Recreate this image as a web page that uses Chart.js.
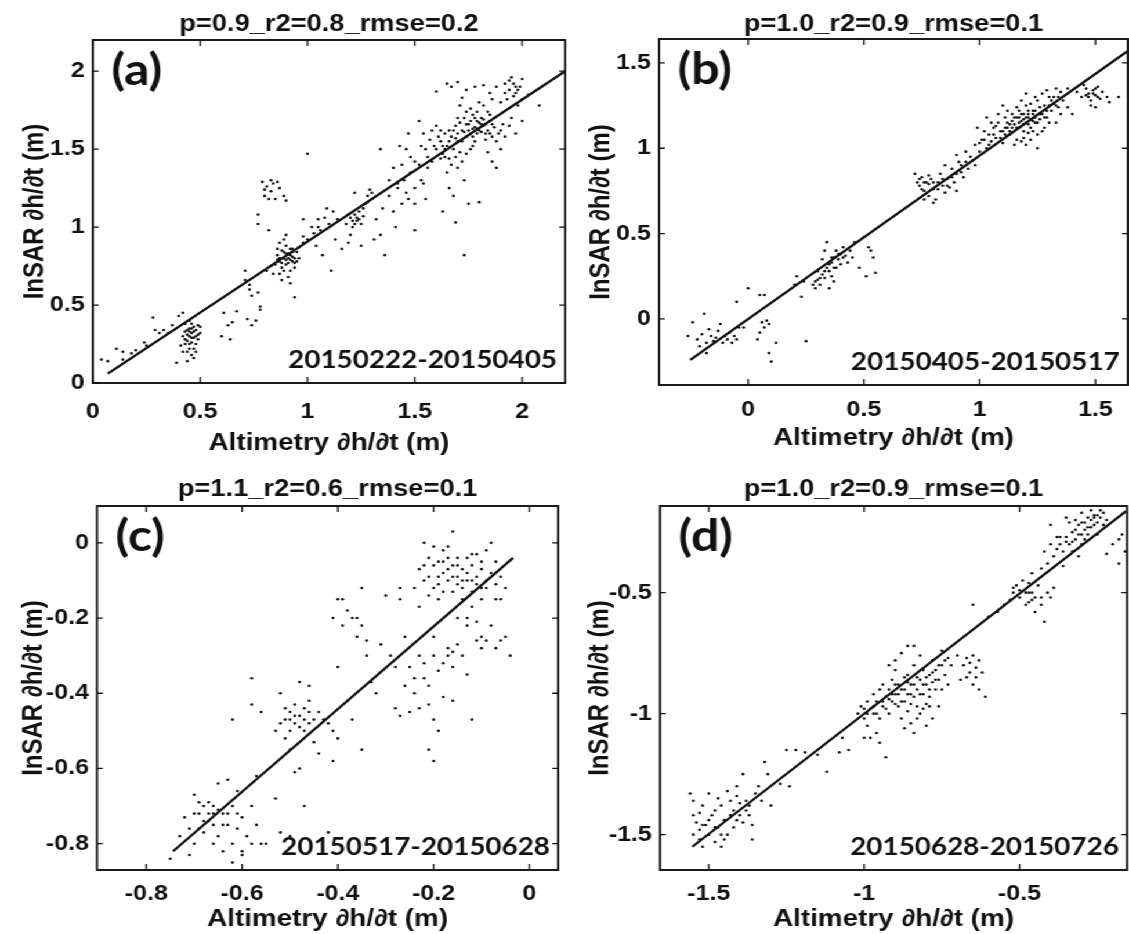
<!DOCTYPE html>
<html>
<head>
<meta charset="utf-8">
<script src="https://cdn.jsdelivr.net/npm/chart.js@4.4.1/dist/chart.umd.min.js"></script>
<style>
  html, body { margin: 0; padding: 0; background: #fff; }
  /* the source figure is stretched sideways, so draw narrow and widen the whole page */
  #page { position: absolute; left: 0; top: 0; width: 973px; height: 934px;
          transform: scaleX(1.16033); transform-origin: 0 0; }
  canvas { position: absolute; }
</style>
</head>
<body>
<div id="page">
  <canvas id="panelA" width="490" height="466" style="left:0;top:0"></canvas>
  <canvas id="panelB" width="483" height="466" style="left:490px;top:0"></canvas>
  <canvas id="panelC" width="490" height="468" style="left:0;top:466px"></canvas>
  <canvas id="panelD" width="483" height="468" style="left:490px;top:466px"></canvas>
</div>
<script>
document.addEventListener('DOMContentLoaded', function () {

// ---------------------------------------------------------------------------
// data
// ---------------------------------------------------------------------------

const titles = ['p=0.9_r2=0.8_rmse=0.2', 'p=1.0_r2=0.9_rmse=0.1', 'p=1.1_r2=0.6_rmse=0.1', 'p=1.0_r2=0.9_rmse=0.1'];
const letters = ['(a)', '(b)', '(c)', '(d)'];
const periods = ['20150222-20150405', '20150405-20150517', '20150517-20150628', '20150628-20150726'];
const xLabel = 'Altimetry \u2202h/\u2202t (m)';
const yLabel = 'InSAR \u2202h/\u2202t (m)';

// axis limits [min, max]
const xRangeA = [0, 2.2],        yRangeA = [0, 2.2];
const xRangeB = [-0.385, 1.64],  yRangeB = [-0.387, 1.64];
const xRangeC = [-0.903, 0.06],  yRangeC = [-0.87, 0.098];
const xRangeD = [-1.657, -0.154], yRangeD = [-1.646, -0.142];

// tick values
const ticksA = [0, 0.5, 1, 1.5, 2];
const ticksB = [0, 0.5, 1, 1.5];
const ticksC = [-0.8, -0.6, -0.4, -0.2, 0];
const ticksD = [-1.5, -1, -0.5];

// fitted lines, two end points each
const fitA = [[0.07, 0.06], [2.2, 2.0]];
const fitB = [[-0.25, -0.24], [1.64, 1.57]];
const fitC = [[-0.744, -0.82], [-0.034, -0.04]];
const fitD = [[-1.553, -1.55], [-0.157, -0.163]];

// scatter points [altimetry, insar]
const ptsA = [
  [0.04,0.15],[0.07,0.14],[0.11,0.22],[0.14,0.2],[0.14,0.15],[0.18,0.19],[0.2,0.21],[0.24,0.26],[0.25,0.24],
  [0.28,0.42],[0.29,0.34],[0.31,0.32],[0.33,0.34],[0.35,0.32],[0.37,0.37],[0.39,0.13],[0.4,0.43],[0.42,0.45],
  [0.42,0.3],[0.43,0.33],[0.44,0.27],[0.45,0.35],[0.46,0.32],[0.47,0.29],[0.48,0.34],[0.45,0.22],[0.46,0.18],
  [0.44,0.2],[0.47,0.16],[0.48,0.25],[0.49,0.31],[0.5,0.36],[0.43,0.38],[0.41,0.24],[0.44,0.14],[0.46,0.38],
  [0.49,0.28],[0.47,0.36],[0.42,0.2],[0.5,0.32],[0.45,0.3],[0.48,0.2],[0.46,0.26],[0.44,0.34],[0.49,0.37],[0.45,0.4],
  [0.43,0.28],[0.44,0.31],[0.45,0.33],[0.46,0.29],[0.47,0.33],[0.48,0.3],[0.46,0.35],[0.45,0.25],[0.47,0.22],[0.43,0.25],
  [0.6,0.3],[0.61,0.45],[0.63,0.37],[0.64,0.28],[0.65,0.39],[0.67,0.46],[0.72,0.41],[0.74,0.37],[0.76,0.4],
  [0.71,0.66],[0.73,0.6],[0.74,0.56],[0.77,0.58],[0.78,0.49],[0.78,0.47],[0.71,0.72],[0.73,0.63],
  [0.79,1.29],[0.81,1.26],[0.83,1.23],[0.84,1.28],[0.86,1.29],[0.8,1.2],[0.85,1.18],[0.83,1.3],[0.87,1.25],
  [0.82,1.18],[0.89,1.2],[0.9,1.17],[0.77,1.08],[0.77,1.02],[0.82,0.98],[0.8,1.24],
  [0.86,0.82],[0.87,0.78],[0.88,0.85],[0.89,0.8],[0.9,0.76],[0.91,0.83],[0.92,0.79],[0.93,0.81],[0.94,0.77],
  [0.9,0.88],[0.88,0.74],[0.92,0.72],[0.95,0.84],[0.96,0.8],[0.87,0.9],[0.91,0.68],[0.93,0.86],[0.85,0.76],
  [0.89,0.92],[0.94,0.74],[0.96,0.87],[0.98,0.9],[0.92,0.64],[0.94,0.55],[0.83,0.75],[0.84,0.7],[0.81,0.72],
  [0.88,0.66],[0.9,0.95],[0.86,0.86],[0.93,0.78],[0.91,0.8],
  [0.87,0.8],[0.89,0.84],[0.9,0.79],[0.91,0.77],[0.92,0.82],[0.93,0.84],[0.94,0.8],[0.95,0.78],[0.88,0.77],
  [0.86,0.79],[0.9,0.83],[0.92,0.86],[0.89,0.72],[0.87,0.7],
  [0.98,0.94],[1.0,0.92],[1.02,1.0],[1.03,0.96],[1.05,1.05],[1.06,0.98],[1.08,1.06],[1.1,1.02],[1.12,1.1],
  [1.04,0.88],[1.07,0.82],[1.11,0.72],[1.0,1.47],[1.05,1.0],[1.14,1.05],[1.09,1.12],[0.98,1.05],[1.13,0.92],
  [1.18,1.02],[1.2,1.06],[1.21,1.0],[1.22,1.08],[1.23,1.04],[1.24,1.1],[1.25,1.02],[1.2,0.95],[1.19,0.9],
  [1.26,1.07],[1.27,1.15],[1.28,1.2],[1.29,1.24],[1.3,1.18],[1.25,0.88],[1.22,1.22],[1.16,0.86],[1.31,0.92],
  [1.21,1.04],[1.23,1.06],[1.22,1.02],[1.24,1.05],[1.19,1.08],[1.26,1.12],[1.28,1.16],[1.3,1.22],
  [1.32,1.05],[1.34,0.95],[1.35,1.12],[1.36,0.82],[1.38,1.2],[1.4,1.1],[1.41,1.0],[1.42,1.25],[1.44,1.15],
  [1.45,1.3],[1.46,1.22],[1.48,1.35],[1.5,1.25],[1.52,1.4],[1.53,1.3],[1.55,1.18],[1.56,1.45],[1.34,1.5],
  [1.43,1.52],[1.5,0.98],[1.54,1.6],[1.52,1.68],[1.47,1.6],[1.4,1.38],[1.38,1.3],
  [1.46,1.5],[1.5,1.42],[1.48,1.45],[1.53,1.52],[1.56,1.38],[1.44,1.4],[1.42,1.28],[1.47,1.18],[1.5,1.15],[1.54,1.28],
  [1.6,1.5],[1.62,1.55],[1.63,1.47],[1.64,1.6],[1.65,1.52],[1.66,1.44],[1.67,1.58],[1.68,1.5],[1.69,1.65],
  [1.7,1.55],[1.71,1.48],[1.72,1.62],[1.73,1.7],[1.74,1.58],[1.75,1.66],[1.76,1.6],[1.77,1.72],[1.78,1.64],
  [1.79,1.68],[1.8,1.62],[1.81,1.7],[1.82,1.65],[1.83,1.6],[1.84,1.74],[1.85,1.68],[1.86,1.58],[1.87,1.64],
  [1.88,1.55],[1.9,1.62],[1.92,1.58],[1.94,1.65],[1.78,1.55],[1.76,1.5],[1.72,1.42],[1.7,1.38],[1.67,1.4],
  [1.65,1.35],[1.62,1.62],[1.6,1.65],[1.58,1.42],[1.73,1.3],[1.75,1.15],[1.68,1.2],[1.8,1.16],[1.86,1.42],
  [1.88,1.38],[1.84,1.48],[1.82,1.78],[1.8,1.8],[1.76,1.76],[1.74,1.74],[1.71,1.78],[1.9,1.5],[1.95,1.7],
  [1.97,1.6],[2.0,1.68],[1.66,1.25],[1.63,1.1],[1.69,1.03],[1.73,0.82],[1.79,1.6],[1.81,1.66],[1.77,1.63],
  [1.61,1.58],[1.63,1.52],[1.64,1.45],[1.66,1.55],[1.68,1.62],[1.69,1.57],[1.7,1.6],[1.71,1.67],[1.72,1.55],
  [1.73,1.61],[1.74,1.66],[1.75,1.62],[1.76,1.68],[1.77,1.58],[1.78,1.7],[1.79,1.63],[1.8,1.67],[1.81,1.61],
  [1.82,1.69],[1.83,1.66],[1.84,1.62],[1.85,1.72],[1.86,1.66],[1.87,1.7],[1.89,1.6],[1.91,1.66],[1.83,1.56],
  [1.77,1.52],[1.74,1.47],[1.69,1.45],[1.64,1.5],[1.66,1.62],[1.7,1.7],[1.79,1.74],[1.85,1.6],[1.62,1.44],
  [1.59,1.52],[1.57,1.56],[1.55,1.5],[1.58,1.62],
  [1.65,1.92],[1.67,1.9],[1.7,1.93],[1.74,1.88],[1.78,1.9],[1.82,1.91],[1.85,1.86],[1.88,1.9],[1.92,1.92],
  [1.94,1.88],[1.95,1.96],[1.96,1.84],[1.97,1.9],[1.93,1.82],[2.0,1.95],[2.03,1.85],[1.98,1.78],[1.9,1.8],
  [1.72,1.83],[1.6,1.87],[2.08,1.78],[1.96,1.92],[1.98,1.88],[1.94,1.94],[1.99,1.9],[1.97,1.86],[2.0,1.82],
  [1.92,1.86],[1.86,1.82]
];

const ptsB = [
  [-0.26,-0.1],[-0.24,-0.02],[-0.22,-0.12],[-0.2,-0.09],[-0.19,0.03],[-0.18,-0.14],[-0.17,-0.06],[-0.16,-0.1],
  [-0.15,-0.13],[-0.14,-0.11],[-0.12,-0.03],[-0.11,-0.14],[-0.1,-0.1],[-0.09,-0.12],[-0.08,-0.08],[-0.07,-0.14],
  [-0.06,-0.1],[-0.05,-0.12],[-0.04,-0.05],[-0.18,-0.2],[-0.21,-0.16],[-0.13,-0.07],[-0.05,0.1],[-0.02,-0.05],[0.0,0.18],
  [0.04,-0.12],[0.05,-0.08],[0.06,-0.02],[0.07,-0.05],[0.08,-0.01],[0.09,-0.03],[0.09,-0.2],[0.1,-0.25],[0.12,-0.14],
  [0.05,0.14],[0.07,0.14],[0.25,-0.13],
  [0.2,0.2],[0.21,0.25],[0.23,0.13],[0.24,0.22],[0.28,0.2],[0.29,0.18],[0.3,0.23],[0.31,0.2],[0.32,0.26],
  [0.33,0.24],[0.34,0.3],[0.35,0.28],[0.36,0.33],[0.37,0.36],[0.38,0.4],[0.39,0.35],[0.4,0.38],[0.41,0.42],
  [0.42,0.37],[0.33,0.4],[0.32,0.35],[0.34,0.45],[0.36,0.25],[0.38,0.3],[0.4,0.32],[0.35,0.18],[0.3,0.28],
  [0.37,0.22],[0.43,0.33],[0.44,0.4],[0.5,0.48],[0.48,0.3],[0.51,0.25],[0.53,0.4],[0.54,0.36],[0.52,0.42],
  [0.55,0.27],[0.45,0.36],[0.46,0.45],
  [0.33,0.28],[0.35,0.32],[0.37,0.3],[0.39,0.38],[0.41,0.36],[0.36,0.36],[0.31,0.24],[0.29,0.22],
  [0.72,0.85],[0.73,0.8],[0.74,0.78],[0.75,0.83],[0.76,0.75],[0.77,0.8],[0.78,0.72],[0.79,0.82],[0.8,0.76],
  [0.81,0.7],[0.82,0.8],[0.83,0.85],[0.84,0.78],[0.85,0.9],[0.86,0.82],[0.87,0.77],[0.88,0.88],[0.89,0.8],
  [0.9,0.75],[0.91,0.92],[0.92,0.86],[0.93,0.83],[0.95,0.88],[0.96,0.95],[0.98,0.9],[0.8,0.68],[0.76,0.7],
  [0.85,0.74],[0.9,0.96],[0.94,0.98],[0.74,0.82],[0.78,0.79],
  [0.76,0.8],[0.78,0.84],[0.8,0.8],[0.82,0.76],[0.84,0.82],[0.86,0.78],[0.88,0.83],[0.9,0.85],[0.92,0.9],
  [0.94,0.92],[0.97,0.93],[0.75,0.76],
  [0.98,1.02],[1.0,0.98],[1.01,1.05],[1.02,1.1],[1.03,1.0],[1.04,1.08],[1.05,1.04],[1.06,1.12],[1.07,1.06],
  [1.08,1.15],[1.09,1.1],[1.1,1.03],[1.11,1.18],[1.12,1.12],[1.13,1.08],[1.14,1.2],[1.15,1.14],[1.16,1.05],
  [1.17,1.22],[1.18,1.16],[1.19,1.1],[1.2,1.25],[1.21,1.18],[1.22,1.12],[1.23,1.2],[1.24,1.15],[1.25,1.28],
  [1.26,1.2],[1.27,1.1],[1.28,1.25],[1.29,1.18],[1.3,1.3],[1.31,1.22],[1.32,1.26],[1.33,1.15],[1.34,1.3],
  [1.35,1.2],[1.36,1.28],[1.12,1.22],[1.1,1.25],[1.08,1.2],[1.15,1.02],[1.18,1.04],[1.2,1.02],[1.22,1.05],
  [1.25,1.08],[1.05,1.15],[1.03,1.18],[0.99,1.12],[1.14,1.16],[1.16,1.18],[1.19,1.2],[1.21,1.14],[1.23,1.1],
  [1.17,1.12],[1.13,1.14],[1.11,1.08],[1.24,1.22],[1.26,1.17],[1.28,1.12],[1.3,1.15],[1.22,1.26],[1.18,1.28],
  [1.27,1.32],[1.38,1.24],[1.4,1.2],[1.25,1.0],[1.2,1.32],[1.19,1.14],[1.21,1.22],[1.17,1.18],[1.23,1.16],
  [1.1,1.1],[1.12,1.15],[1.14,1.12],[1.15,1.18],[1.16,1.12],[1.17,1.15],[1.18,1.2],[1.19,1.17],[1.2,1.15],
  [1.21,1.2],[1.22,1.17],[1.23,1.22],[1.24,1.18],[1.25,1.15],[1.26,1.24],[1.27,1.2],[1.28,1.18],[1.29,1.22],
  [1.3,1.25],[1.31,1.28],[1.32,1.3],[1.33,1.25],[1.34,1.24],[1.35,1.33],[1.06,1.08],[1.07,1.13],[1.09,1.06],
  [1.11,1.12],[1.13,1.1],[1.04,1.02],[1.02,1.05],[1.0,1.03],[1.21,1.09],[1.19,1.06],[1.24,1.3],[1.29,1.34],
  [1.33,1.35],[1.16,1.24],[1.2,1.18],[1.18,1.13],
  [1.42,1.33],[1.44,1.3],[1.46,1.35],[1.47,1.32],[1.48,1.28],[1.49,1.34],[1.5,1.31],[1.51,1.36],[1.52,1.29],
  [1.53,1.33],[1.55,1.3],[1.48,1.25],[1.5,1.24],[1.45,1.37],[1.56,1.27],[1.6,1.3],[1.38,1.35],
  [1.47,1.3],[1.49,1.32],[1.51,1.3],[1.5,1.35],[1.46,1.31]
];

const ptsC = [
  [-0.75,-0.84],[-0.73,-0.78],[-0.72,-0.73],[-0.71,-0.83],[-0.7,-0.67],[-0.69,-0.72],[-0.69,-0.76],[-0.68,-0.7],
  [-0.68,-0.74],[-0.67,-0.69],[-0.67,-0.72],[-0.66,-0.75],[-0.66,-0.7],[-0.65,-0.64],[-0.65,-0.78],[-0.64,-0.82],
  [-0.64,-0.72],[-0.63,-0.63],[-0.63,-0.75],[-0.62,-0.7],[-0.62,-0.8],[-0.62,-0.85],[-0.61,-0.72],[-0.61,-0.76],
  [-0.6,-0.73],[-0.6,-0.83],[-0.59,-0.78],[-0.58,-0.7],[-0.58,-0.8],[-0.57,-0.75],[-0.56,-0.8],[-0.55,-0.8],
  [-0.7,-0.8],[-0.71,-0.76],[-0.66,-0.8],[-0.61,-0.66],[-0.6,-0.82],[-0.53,-0.68],[-0.57,-0.62],
  [-0.7,-0.72],[-0.69,-0.69],[-0.68,-0.77],[-0.67,-0.74],[-0.66,-0.72],[-0.65,-0.71],[-0.64,-0.75],[-0.63,-0.72],
  [-0.58,-0.36],[-0.58,-0.43],[-0.56,-0.45],[-0.52,-0.4],[-0.52,-0.48],[-0.51,-0.47],[-0.5,-0.5],[-0.5,-0.45],
  [-0.49,-0.48],[-0.49,-0.43],[-0.48,-0.46],[-0.48,-0.37],[-0.47,-0.44],[-0.47,-0.5],[-0.46,-0.48],[-0.46,-0.42],
  [-0.45,-0.47],[-0.45,-0.53],[-0.44,-0.45],[-0.44,-0.56],[-0.43,-0.47],[-0.5,-0.55],[-0.49,-0.61],[-0.48,-0.6],
  [-0.47,-0.7],[-0.51,-0.52],[-0.53,-0.5],[-0.46,-0.38],[-0.62,-0.47],[-0.42,-0.48],[-0.41,-0.5],[-0.4,-0.52],
  [-0.41,-0.58],[-0.52,-0.77],[-0.5,-0.78],[-0.42,-0.77],[-0.5,-0.81],
  [-0.5,-0.47],[-0.49,-0.46],[-0.48,-0.49],[-0.47,-0.47],[-0.46,-0.45],[-0.51,-0.44],
  [-0.41,-0.2],[-0.4,-0.15],[-0.39,-0.15],[-0.39,-0.22],[-0.38,-0.18],[-0.37,-0.2],[-0.36,-0.2],[-0.36,-0.25],
  [-0.35,-0.22],[-0.34,-0.26],[-0.35,-0.12],[-0.4,-0.33],[-0.38,-0.42],[-0.37,-0.47],[-0.34,-0.3],[-0.33,-0.37],
  [-0.32,-0.4],[-0.31,-0.27],[-0.3,-0.14],[-0.29,-0.3],[-0.35,-0.55],[-0.28,-0.33],[-0.28,-0.44],[-0.27,-0.46],
  [-0.27,-0.12],[-0.27,-0.15],[-0.26,-0.25],[-0.26,-0.38],[-0.25,-0.33],[-0.25,-0.45],[-0.24,-0.36],[-0.24,-0.4],
  [-0.23,-0.17],[-0.23,-0.3],[-0.23,-0.44],[-0.22,-0.32],[-0.22,-0.36],[-0.21,-0.38],[-0.21,-0.43],[-0.21,-0.55],
  [-0.2,-0.58],[-0.2,-0.47],[-0.2,-0.3],[-0.2,-0.25],[-0.19,-0.34],[-0.19,-0.5],[-0.18,-0.32],[-0.18,-0.41],
  [-0.17,-0.3],[-0.17,-0.28],[-0.16,-0.33],[-0.16,-0.29],[-0.16,-0.42],[-0.15,-0.2],[-0.15,-0.27],[-0.14,-0.3],
  [-0.13,-0.2],[-0.13,-0.35],[-0.12,-0.47],[-0.11,-0.26],[-0.11,-0.21],[-0.1,-0.25],[-0.1,-0.28],[-0.09,-0.26],
  [-0.08,-0.22],[-0.07,-0.28],[-0.06,-0.26],[-0.05,-0.25],[-0.04,-0.3],[-0.06,-0.15],[-0.13,-0.22],[-0.12,-0.17],
  [-0.23,-0.07],[-0.22,-0.1],[-0.22,0.0],[-0.21,-0.09],[-0.2,-0.12],[-0.2,-0.01],[-0.19,-0.05],[-0.19,-0.09],
  [-0.18,-0.08],[-0.18,-0.02],[-0.17,-0.07],[-0.17,-0.1],[-0.16,-0.06],[-0.16,-0.13],[-0.16,0.03],[-0.15,-0.09],
  [-0.15,-0.04],[-0.14,-0.12],[-0.14,-0.07],[-0.13,-0.1],[-0.13,-0.04],[-0.12,-0.06],[-0.12,-0.13],[-0.11,-0.09],
  [-0.11,-0.03],[-0.1,-0.12],[-0.1,-0.07],[-0.09,-0.1],[-0.09,-0.02],[-0.08,-0.08],[-0.08,0.0],[-0.07,-0.11],
  [-0.07,-0.05],[-0.06,-0.09],[-0.05,-0.12],[-0.24,-0.12],[-0.21,-0.14],[-0.18,-0.13],[-0.14,-0.15],[-0.19,-0.15],
  [-0.17,-0.01],[-0.15,-0.11],[-0.12,-0.1],[-0.1,-0.15],[-0.09,-0.12],[-0.07,-0.15],
  [-0.2,-0.06],[-0.19,-0.11],[-0.18,-0.05],[-0.17,-0.04],[-0.16,-0.09],[-0.15,-0.06],[-0.14,-0.1],[-0.13,-0.08],
  [-0.12,-0.03],[-0.11,-0.11],[-0.1,-0.05],[-0.21,-0.04],[-0.22,-0.06]
];

const ptsD = [
  [-1.56,-1.33],[-1.55,-1.42],[-1.55,-1.5],[-1.54,-1.45],[-1.53,-1.52],[-1.52,-1.38],[-1.52,-1.55],[-1.51,-1.46],
  [-1.5,-1.33],[-1.5,-1.5],[-1.49,-1.42],[-1.48,-1.53],[-1.47,-1.47],[-1.46,-1.38],[-1.46,-1.55],[-1.45,-1.44],
  [-1.44,-1.5],[-1.44,-1.32],[-1.43,-1.36],[-1.42,-1.4],[-1.42,-1.47],[-1.41,-1.3],[-1.4,-1.42],[-1.4,-1.37],
  [-1.39,-1.25],[-1.39,-1.45],[-1.38,-1.4],[-1.37,-1.38],[-1.36,-1.46],[-1.36,-1.52],[-1.35,-1.33],[-1.34,-1.3],
  [-1.33,-1.36],[-1.32,-1.2],[-1.31,-1.25],[-1.3,-1.38],[-1.48,-1.4],[-1.53,-1.48],[-1.45,-1.52],[-1.41,-1.34],
  [-1.27,-1.29],[-1.24,-1.3],
  [-1.52,-1.46],[-1.5,-1.44],[-1.48,-1.47],[-1.46,-1.5],[-1.43,-1.42],[-1.41,-1.44],[-1.38,-1.36],[-1.37,-1.42],
  [-1.53,-1.41],[-1.55,-1.36],[-1.47,-1.35],
  [-1.25,-1.15],[-1.22,-1.15],[-1.19,-1.16],[-1.15,-1.17],[-1.12,-1.24],[-1.08,-1.16],[-1.05,-1.15],[-1.07,-1.1],
  [-1.02,-1.0],[-1.01,-0.97],[-1.0,-1.02],[-0.99,-0.95],[-0.99,-1.05],[-0.98,-0.98],[-0.98,-1.1],[-0.97,-0.92],
  [-0.97,-1.0],[-0.96,-0.95],[-0.96,-1.08],[-0.95,-0.9],[-0.95,-1.02],[-0.94,-0.88],[-0.94,-0.97],[-0.93,-1.18],
  [-0.93,-0.93],[-0.92,-0.9],[-0.92,-1.0],[-0.91,-0.86],[-0.91,-0.95],[-0.9,-0.92],[-0.9,-0.82],[-0.89,-0.88],
  [-0.89,-0.97],[-0.88,-0.9],[-0.88,-1.02],[-0.87,-0.85],[-0.87,-0.95],[-0.86,-0.92],[-0.86,-0.99],[-0.85,-0.88],
  [-0.85,-1.04],[-0.84,-0.93],[-0.84,-0.8],[-0.83,-0.97],[-0.83,-0.9],[-0.82,-0.86],[-0.82,-1.0],[-0.81,-0.92],
  [-0.81,-0.82],[-0.8,-0.88],[-0.8,-0.96],[-0.79,-0.84],[-0.79,-0.93],[-0.78,-0.87],[-0.78,-0.78],[-0.77,-0.9],
  [-0.77,-0.82],[-0.76,-0.86],[-0.76,-0.97],[-0.75,-0.8],[-0.75,-0.9],[-0.74,-0.84],[-0.73,-0.77],[-0.73,-0.88],
  [-0.72,-0.8],[-0.88,-0.75],[-0.86,-0.72],[-0.84,-0.72],[-0.9,-0.78],[-0.92,-0.8],[-0.87,-1.06],[-0.84,-1.08],
  [-0.8,-1.05],[-0.78,-1.02],[-0.95,-1.12],[-1.0,-1.1],[-0.82,-0.76],[-0.75,-0.74],
  [-0.96,-1.0],[-0.94,-0.95],[-0.93,-0.98],[-0.92,-0.94],[-0.91,-0.92],[-0.9,-0.96],[-0.89,-0.92],[-0.88,-0.95],
  [-0.87,-0.9],[-0.86,-0.87],[-0.85,-0.92],[-0.84,-0.88],[-0.83,-0.85],[-0.82,-0.92],[-0.81,-0.88],[-0.8,-0.85],
  [-0.79,-0.9],[-0.78,-0.83],[-0.77,-0.86],[-0.76,-0.8],[-0.74,-0.78],[-0.97,-0.97],[-0.99,-1.0],[-1.0,-0.98],
  [-0.85,-0.96],[-0.83,-1.02],[-0.81,-0.98],[-0.79,-0.97],[-0.86,-0.84],[-0.9,-0.88],
  [-0.68,-0.8],[-0.67,-0.77],[-0.67,-0.85],[-0.66,-0.79],[-0.66,-0.83],[-0.65,-0.76],[-0.65,-0.88],[-0.64,-0.81],
  [-0.64,-0.85],[-0.63,-0.78],[-0.63,-0.9],[-0.62,-0.83],[-0.7,-0.76],[-0.69,-0.86],[-0.61,-0.93],
  [-0.65,-0.55],[-0.6,-0.6],[-0.57,-0.58],[-0.55,-0.55],[-0.53,-0.53],[-0.52,-0.5],[-0.51,-0.47],[-0.5,-0.52],
  [-0.49,-0.45],[-0.48,-0.55],[-0.47,-0.5],[-0.46,-0.42],[-0.46,-0.53],[-0.45,-0.58],[-0.44,-0.47],[-0.43,-0.52],
  [-0.42,-0.62],[-0.43,-0.55],[-0.47,-0.46],[-0.41,-0.5],[-0.4,-0.52],[-0.39,-0.48],
  [-0.52,-0.48],[-0.5,-0.49],[-0.48,-0.5],[-0.46,-0.5],[-0.45,-0.52],[-0.47,-0.54],
  [-0.42,-0.33],[-0.41,-0.38],[-0.4,-0.3],[-0.39,-0.35],[-0.38,-0.32],[-0.37,-0.27],[-0.36,-0.33],[-0.35,-0.29],
  [-0.34,-0.3],[-0.33,-0.25],[-0.32,-0.28],[-0.31,-0.22],[-0.3,-0.26],[-0.3,-0.21],[-0.29,-0.24],[-0.28,-0.19],
  [-0.28,-0.23],[-0.27,-0.2],[-0.26,-0.22],[-0.25,-0.18],[-0.32,-0.2],[-0.34,-0.21],[-0.35,-0.19],[-0.3,-0.17],
  [-0.27,-0.16],[-0.24,-0.16],[-0.26,-0.18],[-0.29,-0.28],[-0.31,-0.35],[-0.36,-0.39],[-0.25,-0.26],[-0.23,-0.22],
  [-0.22,-0.34],[-0.2,-0.3],[-0.18,-0.28],[-0.38,-0.27],[-0.4,-0.22],[-0.43,-0.4],[-0.33,-0.33],
  [-0.35,-0.27],[-0.33,-0.29],[-0.31,-0.26],[-0.29,-0.21],[-0.28,-0.26],[-0.27,-0.23],[-0.26,-0.19],[-0.25,-0.21],
  [-0.24,-0.19],[-0.23,-0.17],[-0.22,-0.2],[-0.37,-0.3],[-0.32,-0.24],[-0.3,-0.3],[-0.16,-0.33],[-0.17,-0.26],[-0.18,-0.38]
];

// ---------------------------------------------------------------------------
// frame, inward ticks and the in-plot labels
// ---------------------------------------------------------------------------

const framePlugin = {
  id: 'frame',
  afterDraw(chart, args, opts) {
    const { ctx, chartArea: a, scales: { x, y } } = chart;
    ctx.save();
    ctx.strokeStyle = '#111';
    ctx.lineWidth = 1.9;
    ctx.strokeRect(a.left, a.top, a.right - a.left, a.bottom - a.top);
    ctx.lineWidth = 1.3;
    ctx.beginPath();
    x.ticks.forEach(t => {
      const px = x.getPixelForValue(t.value);
      ctx.moveTo(px, a.bottom); ctx.lineTo(px, a.bottom - 6);
      ctx.moveTo(px, a.top); ctx.lineTo(px, a.top + 6);
    });
    y.ticks.forEach(t => {
      const py = y.getPixelForValue(t.value);
      ctx.moveTo(a.left, py); ctx.lineTo(a.left + 5, py);
      ctx.moveTo(a.right, py); ctx.lineTo(a.right - 5, py);
    });
    ctx.stroke();

    ctx.fillStyle = '#111';
    ctx.textBaseline = 'middle';
    ctx.font = 'bold 43px Lato';
    ctx.textAlign = 'left';
    ctx.fillText(opts.letter, a.left + 16, a.top + 31);
    ctx.font = 'bold 24px Lato';
    ctx.textAlign = 'right';
    ctx.fillText(opts.period, a.right - 7, a.bottom - 23);
    ctx.restore();
  }
};

Chart.defaults.font.family = '"Liberation Sans", Arial, sans-serif';
Chart.defaults.color = '#111';

function makePanel(id, i, pts, fit, xRange, yRange, xTicks, yTicks, lay) {
  const ctx = document.getElementById(id).getContext('2d');
  return new Chart(ctx, {
    type: 'scatter',
    data: {
      datasets: [{
        data: fit.map(p => ({ x: p[0], y: p[1] })),
        showLine: true,
        borderColor: '#111',
        borderWidth: 2.3,
        pointRadius: 0
      }, {
        data: pts.map(p => ({ x: p[0], y: p[1] })),
        pointRadius: 1.3,
        pointBackgroundColor: '#111',
        pointBorderWidth: 0
      }]
    },
    options: {
      responsive: false,
      animation: false,
      devicePixelRatio: 1,
      layout: { autoPadding: false, padding: { left: 0, right: lay.right, top: 0, bottom: 0 } },
      plugins: {
        legend: { display: false },
        tooltip: { enabled: false },
        title: {
          display: true,
          text: titles[i],
          fullSize: false,
          color: '#111',
          font: { size: 23.5, weight: 'bold' },
          padding: { top: lay.titleTop, bottom: lay.titleBottom }
        },
        frame: { letter: letters[i], period: periods[i] }
      },
      scales: {
        x: {
          type: 'linear',
          min: xRange[0],
          max: xRange[1],
          grid: { display: false, drawTicks: false },
          border: { display: false },
          afterBuildTicks: s => { s.ticks = xTicks.map(v => ({ value: v })); },
          afterFit: s => { s.height = lay.xHeight; },
          ticks: { font: { size: 21.5, weight: 'bold' }, padding: lay.xTickPad, maxRotation: 0, callback: v => String(v) },
          title: { display: true, text: xLabel, font: { size: 24, weight: 'bold' }, padding: { top: 0, bottom: lay.xTitlePad } }
        },
        y: {
          type: 'linear',
          min: yRange[0],
          max: yRange[1],
          grid: { display: false, drawTicks: false },
          border: { display: false },
          afterBuildTicks: s => { s.ticks = yTicks.map(v => ({ value: v })); },
          afterFit: s => { s.width = lay.yWidth; },
          ticks: { font: { size: 21.5, weight: 'bold' }, padding: 7, callback: v => String(v) },
          title: { display: true, text: yLabel, font: { size: 24, weight: 'bold' }, padding: { top: lay.yTitlePad, bottom: 0 } }
        }
      }
    },
    plugins: [framePlugin]
  });
}

makePanel('panelA', 0, ptsA, fitA, xRangeA, yRangeA, ticksA, ticksA,
  { right: 3, titleTop: 10, titleBottom: 1.8, xHeight: 83, xTickPad: 16, xTitlePad: 8, yWidth: 80, yTitlePad: 16 });
makePanel('panelB', 1, ptsB, fitB, xRangeB, yRangeB, ticksB, ticksB,
  { right: 1, titleTop: 10, titleBottom: 0.8, xHeight: 81, xTickPad: 12, xTitlePad: 13, yWidth: 78, yTitlePad: 14 });
makePanel('panelC', 2, ptsC, fitC, xRangeC, yRangeC, ticksC, ticksC,
  { right: 9, titleTop: 9, titleBottom: 2.8, xHeight: 64, xTickPad: 11, xTitlePad: 0.5, yWidth: 83.6, yTitlePad: 15 });
makePanel('panelD', 3, ptsD, fitD, xRangeD, yRangeD, ticksD, ticksD,
  { right: 1.7, titleTop: 9, titleBottom: 2.8, xHeight: 64, xTickPad: 11, xTitlePad: 0.5, yWidth: 78.8, yTitlePad: 13 });

});
</script>
</body>
</html>
